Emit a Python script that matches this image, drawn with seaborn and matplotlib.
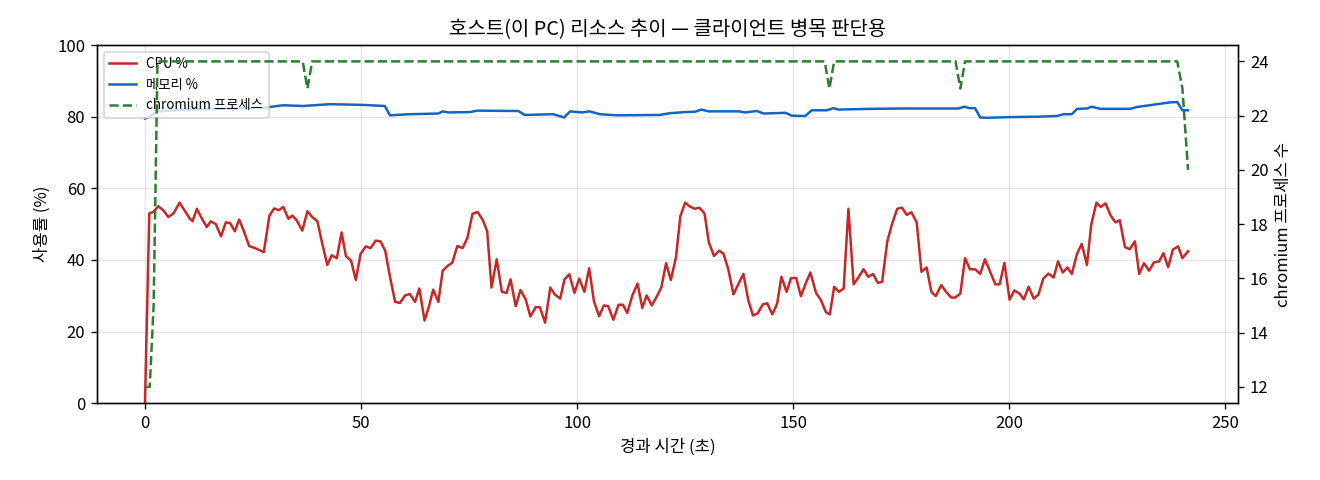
import matplotlib
matplotlib.use('Agg')
import matplotlib.pyplot as plt
import seaborn as sns
import pandas as pd

plt.rcParams['font.family'] = ['Noto Sans CJK KR', 'DejaVu Sans']
plt.rcParams['axes.unicode_minus'] = False

# CPU 사용률 (경과 시간 초, %)
cpu_t = [0.0, 1.0, 1.9, 3.1, 4.2, 5.4, 6.6, 8.0, 9.3, 10.3, 11.0, 12.0, 13.1, 14.3, 15.2, 16.4,
         17.6, 18.7, 19.7, 20.8, 21.8, 22.9, 24.1, 25.5, 27.5, 28.8, 29.9, 31.0, 32.0, 33.2, 34.1,
         35.1, 36.4, 37.6, 38.7, 39.9, 41.0, 42.2, 43.2, 44.4, 45.5, 46.5, 47.7, 48.8, 49.9, 51.1,
         52.2, 53.4, 54.5, 55.6, 56.7, 57.9, 59.0, 60.2, 61.3, 62.5, 63.5, 64.7, 65.7, 66.7, 67.9,
         68.9, 70.0, 71.1, 72.3, 73.5, 74.6, 75.8, 77.0, 78.2, 79.2, 80.2, 81.4, 82.6, 83.7, 84.6,
         85.8, 86.9, 88.1, 89.2, 90.4, 91.4, 92.6, 93.8, 94.9, 96.1, 97.1, 98.2, 99.4, 100.5, 101.7,
         102.8, 103.9, 105.1, 106.2, 107.2, 108.4, 109.6, 110.6, 111.6, 112.8, 114.0, 115.1, 116.1,
         117.3, 118.4, 119.5, 120.6, 121.7, 122.9, 123.9, 125.0, 126.0, 127.2, 128.3, 129.5, 130.5,
         131.7, 132.9, 133.9, 135.0, 136.2, 137.3, 138.5, 139.6, 140.7, 141.8, 143.0, 144.0, 145.2,
         146.3, 147.3, 148.5, 149.5, 150.7, 151.8, 152.9, 154.0, 155.3, 156.4, 157.6, 158.5, 159.5,
         160.6, 161.7, 162.8, 164.0, 165.1, 166.3, 167.4, 168.5, 169.6, 170.6, 171.8, 172.9, 174.1,
         175.2, 176.3, 177.4, 178.6, 179.7, 180.9, 182.0, 183.0, 184.3, 185.4, 186.6, 187.5, 188.7,
         189.8, 190.9, 192.1, 193.3, 194.4, 195.6, 196.8, 197.8, 198.9, 200.1, 201.2, 202.4, 203.4,
         204.5, 205.7, 206.8, 207.9, 209.1, 210.3, 211.3, 212.4, 213.5, 214.5, 215.7, 216.8, 218.0,
         219.0, 220.2, 221.2, 222.3, 223.5, 224.6, 225.6, 226.8, 227.9, 229.1, 230.1, 231.2, 232.4,
         233.5, 234.7, 235.7, 236.8, 237.9, 239.1, 240.1, 241.4]
cpu_pct = [0.0, 53.0, 53.4, 55.0, 53.9, 52.0, 53.0, 56.0, 53.6, 51.7, 50.8, 54.3, 51.7, 49.2, 50.8, 50.0,
           46.6, 50.5, 50.3, 48.0, 51.3, 48.0, 43.9, 43.3, 42.2, 52.4, 54.4, 53.9, 54.8, 51.5, 52.4,
           51.1, 48.2, 53.6, 52.0, 50.8, 44.7, 38.6, 41.3, 40.5, 47.7, 41.1, 39.8, 34.4, 41.7, 43.8,
           43.3, 45.4, 45.2, 42.6, 35.3, 28.3, 28.0, 30.1, 30.5, 28.3, 32.0, 23.1, 26.9, 31.7, 28.3,
           37.0, 38.3, 39.2, 43.9, 43.3, 46.1, 52.9, 53.4, 51.1, 48.0, 32.3, 40.2, 31.1, 30.8, 34.6,
           27.1, 31.6, 29.0, 24.2, 26.8, 26.8, 22.5, 32.3, 30.3, 29.2, 34.6, 36.0, 30.8, 34.8, 31.1,
           37.7, 28.5, 24.3, 27.3, 27.1, 23.3, 27.5, 27.5, 25.2, 30.1, 33.4, 26.6, 30.1,
           27.3, 29.7, 32.3, 39.1, 34.4, 40.8, 52.2, 56.0, 55.0, 54.3, 54.6, 53.0, 44.9,
           41.1, 42.6, 41.7, 37.4, 30.4, 33.2, 36.1, 28.9, 24.5, 25.1, 27.6, 27.9, 24.8,
           27.8, 35.3, 31.1, 34.9, 35.0, 29.9, 33.4, 36.5, 30.8, 28.9, 25.4, 24.8, 32.5,
           31.1, 32.0, 54.3, 33.2, 35.1, 37.4, 35.3, 36.1, 33.6, 33.9, 45.2, 50.1, 54.3,
           54.6, 52.6, 53.3, 50.5, 36.7, 37.9, 31.1, 29.9, 33.0, 31.1, 29.5, 29.5, 30.6,
           40.5, 37.4, 37.4, 36.1, 40.2, 36.7, 33.2, 33.2, 39.2, 28.9, 31.5, 30.6, 29.0,
           32.5, 29.2, 30.4, 34.8, 36.2, 35.1, 39.6, 36.5, 37.9, 36.1, 41.7, 44.5, 38.6,
           49.9, 56.0, 54.8, 55.8, 52.4, 50.5, 51.1, 43.6, 43.0, 45.2, 36.1, 39.1, 37.0,
           39.3, 39.6, 41.9, 38.0, 42.9, 43.8, 40.5, 42.4]

# 메모리 사용률
mem_t = [0.0, 1.1, 3.0, 10.0, 20.0, 27.4, 32.0, 36.6, 42.8, 50.5, 55.5, 56.7, 61.3, 67.9, 68.9,
         70.2, 75.2, 76.9, 86.4, 87.9, 94.5, 97.0, 98.4, 101.1, 102.9, 105.3, 109.2, 119.2, 121.5,
         125.0, 127.3, 128.8, 130.4, 137.4, 138.9, 141.6, 143.2, 148.2, 149.7, 152.8, 154.3, 157.8,
         159.3, 160.5, 167.8, 175.6, 188.3, 189.6, 190.8, 192.1, 193.3, 194.8, 200.2, 206.4, 211.0,
         212.6, 214.5, 215.7, 218.0, 219.1, 221.1, 228.0, 229.5, 237.2, 238.9, 240.1, 241.4]
mem_pct = [79.5, 80.0, 81.5, 82.0, 82.3, 82.5, 83.2, 83.0, 83.5, 83.3, 83.0, 80.4, 80.7, 80.9, 81.5,
           81.2, 81.3, 81.7, 81.6, 80.5, 80.7, 79.8, 81.5, 81.2, 81.5, 80.7, 80.4, 80.5, 81.0,
           81.3, 81.4, 82.0, 81.5, 81.5, 81.2, 81.6, 80.9, 81.1, 80.3, 80.2, 81.8, 81.8,
           82.4, 82.0, 82.2, 82.3, 82.3, 82.8, 82.4, 82.4, 79.8, 79.7, 79.9, 80.0, 80.2,
           80.7, 80.7, 82.2, 82.3, 82.8, 82.2, 82.2, 82.7, 84.0, 84.1, 81.8, 81.8]

# chromium 프로세스 수
proc_t = [0.0, 1.1, 2.0, 2.9, 36.5, 37.6, 38.7, 157.3, 158.4, 159.5, 187.6, 188.7, 189.8,
          238.9, 240.1, 241.4]
proc_count = [12, 12, 15, 24, 24, 23, 24, 24, 23, 24, 24, 23, 24, 24, 23, 20]

cpu_df = pd.DataFrame({'t': cpu_t, 'v': cpu_pct})
mem_df = pd.DataFrame({'t': mem_t, 'v': mem_pct})
proc_df = pd.DataFrame({'t': proc_t, 'v': proc_count})

fig, ax = plt.subplots(figsize=(11, 4), dpi=120)
fig.subplots_adjust(left=0.0735, right=0.938, top=0.906, bottom=0.16)

sns.lineplot(data=cpu_df, x='t', y='v', ax=ax, color='#c62828', linewidth=1.5, label='CPU %')
sns.lineplot(data=mem_df, x='t', y='v', ax=ax, color='#1565c0', linewidth=1.5, label='메모리 %')
ax.set_ylim(0, 100)
ax.set_xlim(-11.1, 253.0)
ax.set_xlabel('경과 시간 (초)')
ax.set_ylabel('사용률 (%)')
ax.grid(alpha=0.3)

ax2 = ax.twinx()
sns.lineplot(data=proc_df, x='t', y='v', ax=ax2, color='#2e7d32', linewidth=1.5,
             linestyle='--', label='chromium 프로세스')
ax2.set_ylabel('chromium 프로세스 수')
ax2.set_xlabel('')

h1, l1 = ax.get_legend_handles_labels()
h2, l2 = ax2.get_legend_handles_labels()
if ax2.get_legend() is not None:
    ax2.get_legend().remove()
ax.legend(h1 + h2, l1 + l2, loc='upper left', fontsize=8)

ax.set_title('호스트(이 PC) 리소스 추이 — 클라이언트 병목 판단용')

plt.savefig('out.png', dpi=120)
